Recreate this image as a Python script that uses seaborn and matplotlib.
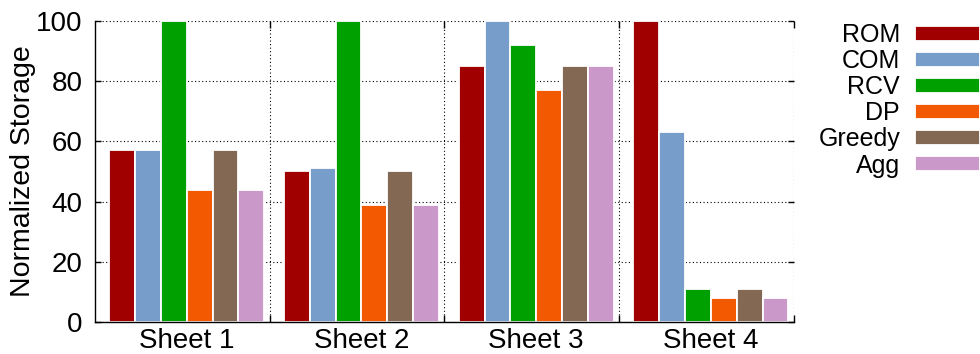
import matplotlib
matplotlib.use("Agg")
import matplotlib.pyplot as plt
from matplotlib.ticker import FixedLocator, MultipleLocator
import pandas as pd
import seaborn as sns

# Normalized storage per sheet for each method
sheets = ["Sheet 1", "Sheet 2", "Sheet 3", "Sheet 4"]
methods = ["ROM", "COM", "RCV", "DP", "Greedy", "Agg"]
rom = [57, 50, 85, 100]
com = [57, 51, 100, 63]
rcv = [100, 100, 92, 11]
dp = [44, 39, 77, 8]
greedy = [57, 50, 85, 11]
agg = [44, 39, 85, 8]
colors = ["#A00000", "#779ECB", "#00A000", "#F25900", "#836953", "#CB99C9"]

series = [rom, com, rcv, dp, greedy, agg]
df = pd.DataFrame(
    [(s, m, v) for m, vals in zip(methods, series) for s, v in zip(sheets, vals)],
    columns=["sheet", "method", "value"],
)

sns.set_style("white")
plt.rcParams["font.family"] = ["Liberation Sans", "DejaVu Sans"]
for key in ("text.color", "axes.labelcolor", "xtick.color", "ytick.color"):
    plt.rcParams[key] = "black"

fig = plt.figure(figsize=(9.8, 3.54), dpi=100)
ax = fig.add_axes([0.0969, 0.0904, 0.7133, 0.8503])

sns.barplot(
    data=df, x="sheet", y="value", hue="method",
    order=sheets, hue_order=methods, palette=colors,
    width=0.887, saturation=1, edgecolor="white", linewidth=1.3,
    errorbar=None, ax=ax,
)

ax.set_xlim(-0.525, 3.475)
ax.set_ylim(0, 100)
ax.set_xlabel("")
ax.set_ylabel("Normalized Storage", fontsize=20.5, labelpad=0)

ax.set_xticks(range(len(sheets)))
ax.set_xticklabels(sheets, fontsize=20)
ax.xaxis.set_minor_locator(FixedLocator([0.475, 1.475, 2.475, 3.475]))
ax.yaxis.set_major_locator(MultipleLocator(20))
ax.tick_params(axis="y", labelsize=20)

ax.tick_params(axis="x", which="major", length=0, pad=4.5)
ax.tick_params(axis="x", which="minor", direction="in", length=5, width=1.0,
               top=True, bottom=True, color="black")
ax.tick_params(axis="y", which="major", direction="in", length=4, width=1.0,
               left=True, right=True, color="black", pad=9)

for side in ("top", "right"):
    ax.spines[side].set_visible(False)
for side in ("left", "bottom"):
    ax.spines[side].set_color("black")
    ax.spines[side].set_linewidth(1.0)

ax.set_axisbelow(True)
ax.grid(False)
ax.yaxis.grid(True, which="major", color="black", linestyle=(0, (1, 2.2)), linewidth=0.8)
ax.xaxis.grid(True, which="minor", color="black", linestyle=(0, (1, 2.2)), linewidth=0.8)

handles, labels = ax.get_legend_handles_labels()
ax.legend(
    handles, labels, loc="upper right",
    bbox_to_anchor=(1.0, 1 - 23 / 354), bbox_transform=fig.transFigure,
    frameon=False, markerfirst=False, fontsize=18,
    handlelength=2.6, handleheight=0.53, handletextpad=0.6,
    labelspacing=0.084, borderpad=0, borderaxespad=0,
)

fig.savefig("out.png", dpi=100)
